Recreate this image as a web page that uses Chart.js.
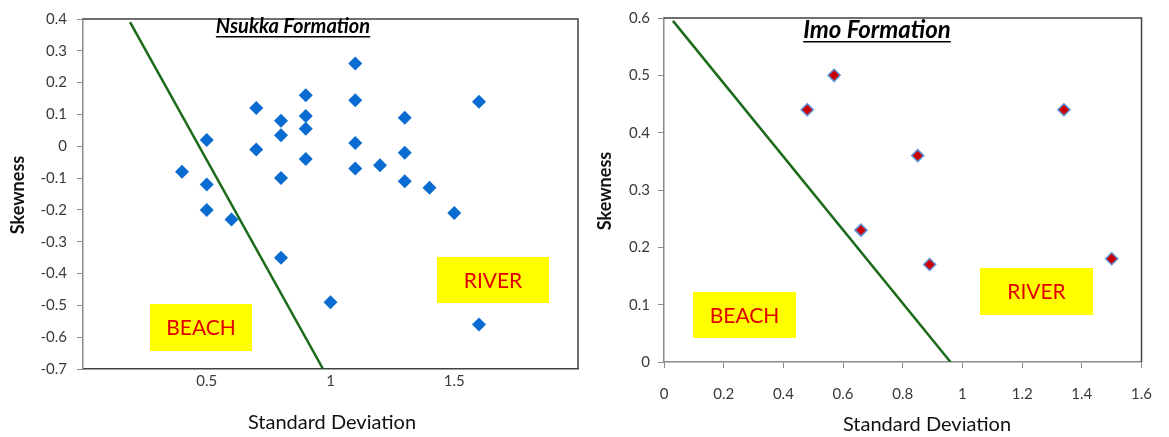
<!DOCTYPE html>
<html>
<head>
<meta charset="utf-8">
<script src="https://cdn.jsdelivr.net/npm/chart.js@4.4.0/dist/chart.umd.min.js"></script>
<style>
  html, body { margin: 0; padding: 0; background: #fff; }
  #wrap { position: relative; width: 1169px; height: 437px; }
  .panel { position: absolute; top: 0; height: 437px; }
</style>
</head>
<body>
<div id="wrap">
  <div class="panel" style="left:0;width:585px"><canvas id="nsukka"></canvas></div>
  <div class="panel" style="left:585px;width:584px"><canvas id="imo"></canvas></div>
</div>
<script>
// ----------------------------------------------------------------
// Dados
// ----------------------------------------------------------------
const nsukkaSD   = [0.4, 0.5, 0.5, 0.5, 0.6, 0.7, 0.7, 0.8, 0.8, 0.8, 0.8, 0.9, 0.9, 0.9, 0.9, 1.0, 1.1, 1.1, 1.1, 1.1, 1.2, 1.3, 1.3, 1.3, 1.4, 1.5, 1.6, 1.6];
const nsukkaSkew = [-0.08, 0.02, -0.12, -0.2, -0.23, 0.12, -0.01, 0.08, 0.035, -0.1, -0.35, 0.16, 0.095, 0.055, -0.04, -0.49, 0.26, 0.145, 0.01, -0.07, -0.06, 0.09, -0.02, -0.11, -0.13, -0.21, 0.14, -0.56];
const nsukkaLineSD   = [0.19, 0.97];
const nsukkaLineSkew = [0.39, -0.7];
const nsukkaXTicks = [0.5, 1, 1.5];
const nsukkaYTicks = [-0.7, -0.6, -0.5, -0.4, -0.3, -0.2, -0.1, 0, 0.1, 0.2, 0.3, 0.4];

const imoSD   = [0.48, 0.57, 0.66, 0.85, 0.89, 1.34, 1.5];
const imoSkew = [0.44, 0.5, 0.23, 0.36, 0.17, 0.44, 0.18];
const imoLineSD   = [0.03, 0.96];
const imoLineSkew = [0.595, 0];
const imoXTicks = [0, 0.2, 0.4, 0.6, 0.8, 1, 1.2, 1.4, 1.6];
const imoYTicks = [0, 0.1, 0.2, 0.3, 0.4, 0.5, 0.6];

// ----------------------------------------------------------------
// Tema
// ----------------------------------------------------------------
const FONT       = 'Lato, "Open Sans", sans-serif';
const TICK_COLOR = '#3a3a3a';
const AXIS_GRAY  = '#8c8c8c';
const FRAME      = '#404040';
const GREEN      = '#1b6b1b';

const pts = (xs, ys) => xs.map((x, i) => ({ x, y: ys[i] }));

// caixa do gráfico, rótulos BEACH / RIVER, títulos
const decor = {
  id: 'decor',
  beforeDatasetsDraw(chart, args, o) {
    const { ctx, chartArea: a } = chart;
    ctx.save();
    ctx.strokeStyle = FRAME;
    ctx.lineWidth = 1.5;
    ctx.beginPath();
    ctx.moveTo(a.left, a.top);
    ctx.lineTo(a.right, a.top);
    ctx.lineTo(a.right, a.bottom);
    ctx.stroke();
    ctx.restore();
  },
  afterDatasetsDraw(chart, args, o) {
    const { ctx } = chart;
    ctx.save();
    (o.boxes || []).forEach(b => {
      ctx.fillStyle = '#ffff00';
      ctx.fillRect(b.x, b.y, b.w, b.h);
      ctx.fillStyle = '#e00000';
      ctx.font = '21px ' + FONT;
      ctx.textAlign = 'center';
      ctx.textBaseline = 'middle';
      ctx.fillText(b.text, b.x + b.w / 2, b.y + b.h / 2 + 1);
    });
    // título sublinhado
    const t = o.title;
    ctx.font = 'italic bold ' + t.size + 'px ' + FONT;
    ctx.fillStyle = '#000';
    ctx.textAlign = 'center';
    ctx.textBaseline = 'alphabetic';
    ctx.fillText(t.text, t.x, t.y);
    const w = ctx.measureText(t.text).width;
    ctx.fillRect(t.x - w / 2, t.y + 3, w, 1.5);
    ctx.restore();
  },
  afterDraw(chart, args, o) {
    const { ctx } = chart;
    ctx.save();
    if (o.mask) {
      ctx.fillStyle = '#fff';
      ctx.fillRect(o.mask.x, o.mask.y, o.mask.w, o.mask.h);
    }
    ctx.fillStyle = '#111';
    ctx.textAlign = 'center';
    ctx.textBaseline = 'middle';
    ctx.font = '20px ' + FONT;
    ctx.fillText('Standard Deviation', o.xTitle.x, o.xTitle.y);
    ctx.font = 'bold 18px ' + FONT;
    ctx.translate(o.yTitle.x, o.yTitle.y);
    ctx.rotate(-Math.PI / 2);
    ctx.fillText('Skewness', 0, 0);
    ctx.restore();
  }
};

function scatterChart(id, c) {
  return new Chart(document.getElementById(id), {
    type: 'scatter',
    data: {
      datasets: [
        {
          data: pts(c.sd, c.skew),
          pointStyle: 'rectRot',
          pointRadius: c.radius,
          pointHoverRadius: c.radius,
          backgroundColor: c.fill,
          borderColor: c.stroke,
          borderWidth: c.strokeW,
          order: 1,
        },
        {
          data: pts(c.lineSD, c.lineSkew),
          showLine: true,
          borderColor: GREEN,
          borderWidth: 2.5,
          pointRadius: 0,
          pointHoverRadius: 0,
          order: 2,
        },
      ],
    },
    options: {
      responsive: true,
      maintainAspectRatio: false,
      animation: false,
      layout: { padding: { top: 18, right: c.padRight, left: 0, bottom: 0 } },
      plugins: {
        legend: { display: false },
        tooltip: { enabled: false },
        decor: c.decor,
      },
      scales: {
        x: {
          type: 'linear',
          min: c.xMin, max: c.xMax,
          afterFit: s => { s.height = c.xHeight; },
          afterBuildTicks: s => { s.ticks = c.xTicks.map(v => ({ value: v })); },
          grid: { drawOnChartArea: false, drawTicks: c.xTickMarks, tickLength: 6, color: AXIS_GRAY },
          border: { color: c.xBorder, width: 1.5 },
          ticks: { color: TICK_COLOR, font: { family: FONT, size: 15 }, padding: c.xPad, maxRotation: 0, callback: v => String(v) },
        },
        y: {
          type: 'linear',
          min: c.yMin, max: c.yMax,
          afterFit: s => { s.width = c.yWidth; },
          afterBuildTicks: s => { s.ticks = c.yTicks.map(v => ({ value: v })); },
          grid: { drawOnChartArea: false, drawTicks: true, tickLength: 6, color: AXIS_GRAY },
          border: { color: AXIS_GRAY, width: 1.5 },
          ticks: { color: TICK_COLOR, font: { family: FONT, size: 15 }, padding: c.yPad, callback: v => String(v) },
        },
      },
    },
    plugins: [decor],
  });
}

scatterChart('nsukka', {
  sd: nsukkaSD, skew: nsukkaSkew, lineSD: nsukkaLineSD, lineSkew: nsukkaLineSkew,
  xTicks: nsukkaXTicks, yTicks: nsukkaYTicks,
  xMin: 0, xMax: 2, yMin: -0.7, yMax: 0.4,
  radius: 7, fill: '#0a6bd0', stroke: '#0a6bd0', strokeW: 0,
  padRight: 4, yWidth: 83, xHeight: 68, xTickMarks: false, xPad: 3, yPad: 10,
  xBorder: FRAME,
  decor: {
    title: { text: 'Nsukka Formation', x: 293, y: 33, size: 20 },
    boxes: [
      { text: 'BEACH', x: 150, y: 304, w: 102, h: 47 },
      { text: 'RIVER', x: 437, y: 257, w: 112, h: 46 },
    ],
    xTitle: { x: 332, y: 423 },
    yTitle: { x: 18, y: 195 },
  },
});

scatterChart('imo', {
  sd: imoSD, skew: imoSkew, lineSD: imoLineSD, lineSkew: imoLineSkew,
  xTicks: imoXTicks, yTicks: imoYTicks,
  xMin: 0, xMax: 1.6, yMin: 0, yMax: 0.6,
  radius: 6, fill: '#cc0000', stroke: '#5b8fd6', strokeW: 1.5,
  padRight: 14, yWidth: 79, xHeight: 75, xTickMarks: true, xPad: 17, yPad: 8,
  xBorder: AXIS_GRAY,
  decor: {
    title: { text: 'Imo Formation', x: 292, y: 38, size: 24 },
    boxes: [
      { text: 'BEACH', x: 108, y: 292, w: 103, h: 46 },
      { text: 'RIVER', x: 395, y: 268, w: 113, h: 47 },
    ],
    mask: { x: 40, y: 399, w: 544, h: 12 },
    xTitle: { x: 342, y: 425 },
    yTitle: { x: 20, y: 191 },
  },
});
</script>
</body>
</html>
